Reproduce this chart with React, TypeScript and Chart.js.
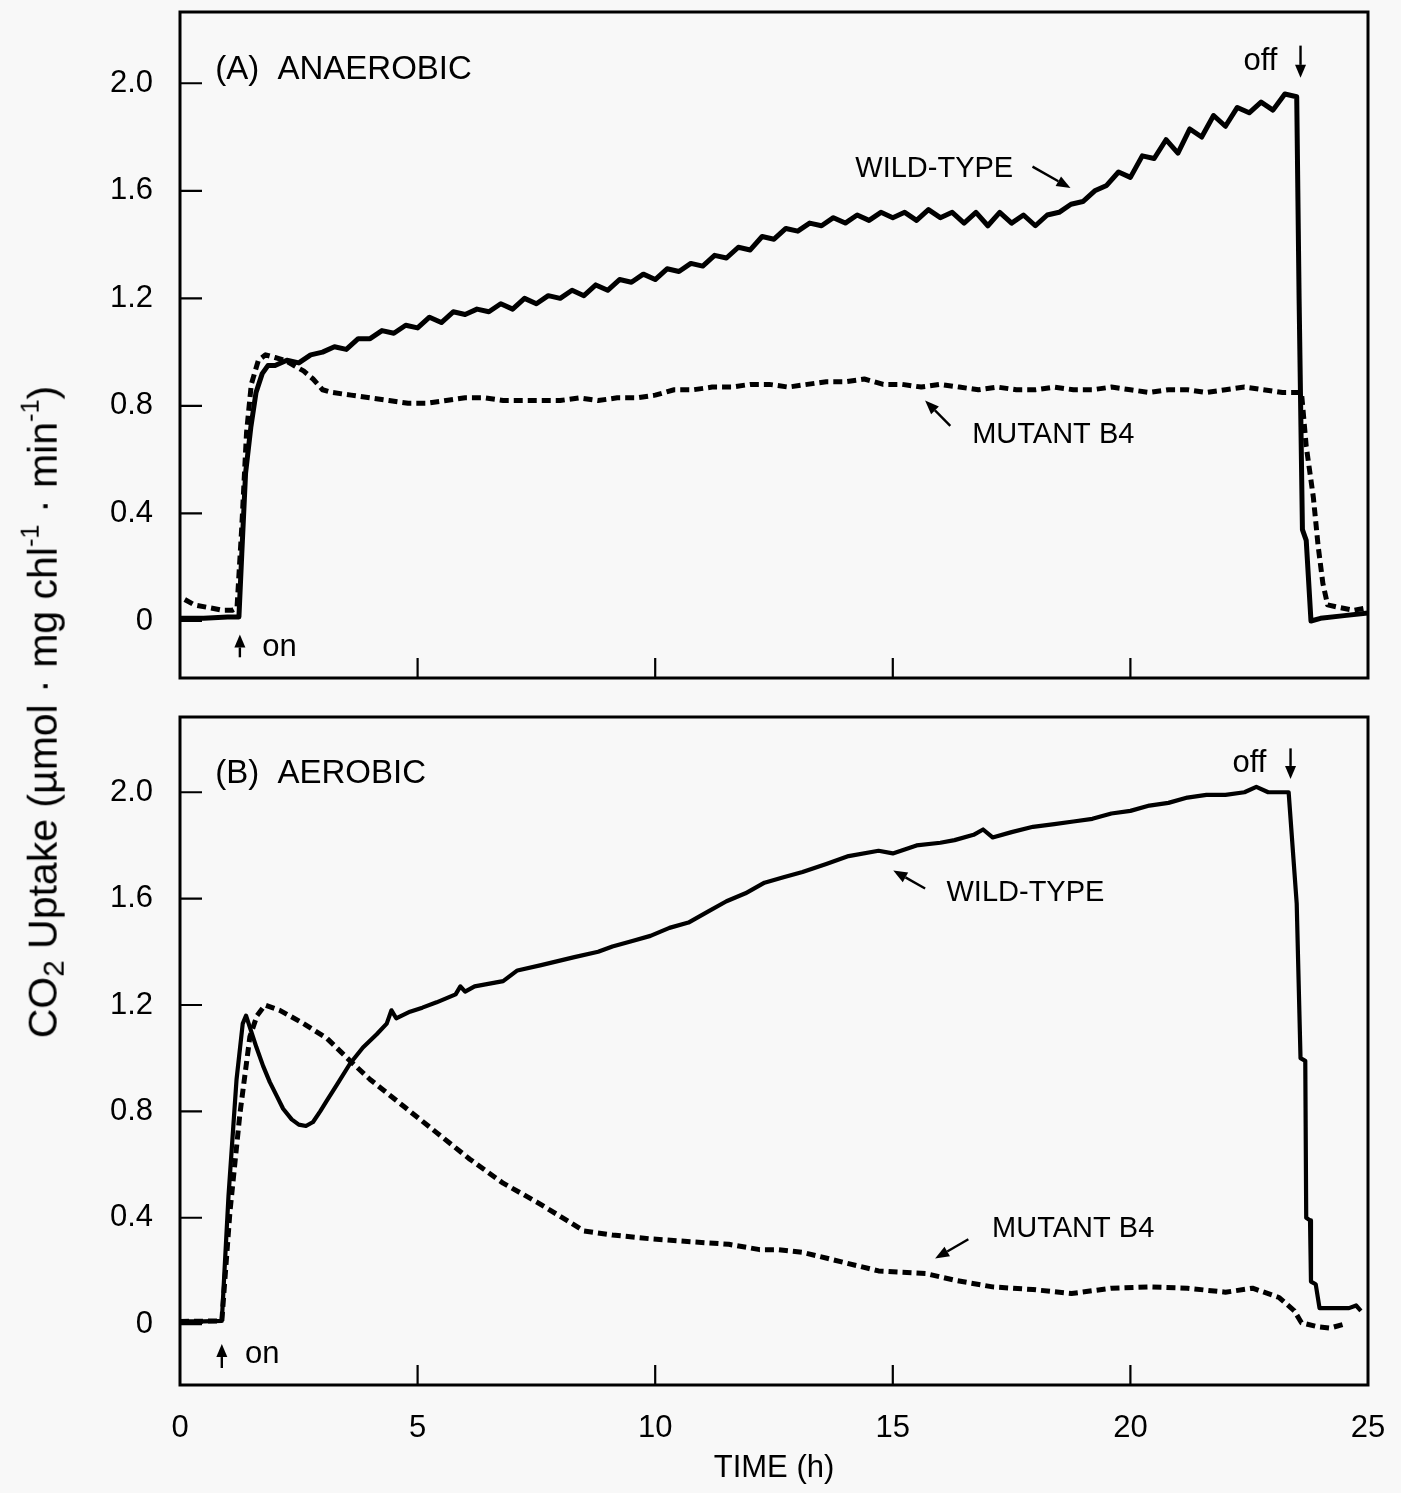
import React, { useEffect, useRef } from 'react';
import { Chart, registerables } from 'chart.js';

Chart.register(...registerables);

const FONT = "'Liberation Sans', Arial, Helvetica, sans-serif";

// ---------- ticks ----------
const xTickValues = [0, 5, 10, 15, 20, 25];
const xInnerTicks = [5, 10, 15, 20];
const yTickValues = [0, 0.4, 0.8, 1.2, 1.6, 2.0];

// ---------- data: [time (h), CO2 uptake] ----------
const anaerobicWildType: number[][] = [
  [0, 0.01], [0.5, 0.01], [1.0, 0.015], [1.24, 0.015], [1.3, 0.25], [1.38, 0.55], [1.49, 0.72],
  [1.6, 0.85], [1.73, 0.92], [1.85, 0.95], [2.0, 0.95], [2.25, 0.97], [2.5, 0.96], [2.75, 0.99],
  [3.0, 1.0], [3.25, 1.02], [3.5, 1.01], [3.75, 1.05], [4.0, 1.05], [4.25, 1.08], [4.5, 1.07],
  [4.75, 1.1], [5.0, 1.09], [5.25, 1.13], [5.5, 1.11], [5.75, 1.15], [6.0, 1.14], [6.25, 1.16],
  [6.5, 1.15], [6.75, 1.18], [7.0, 1.16], [7.25, 1.2], [7.5, 1.18], [7.75, 1.21], [8.0, 1.2],
  [8.25, 1.23], [8.5, 1.21], [8.75, 1.25], [9.0, 1.23], [9.25, 1.27], [9.5, 1.26], [9.75, 1.29],
  [10.0, 1.27], [10.25, 1.31], [10.5, 1.3], [10.75, 1.33], [11.0, 1.32], [11.25, 1.36], [11.5, 1.35],
  [11.75, 1.39], [12.0, 1.38], [12.25, 1.43], [12.5, 1.42], [12.75, 1.46], [13.0, 1.45], [13.25, 1.48],
  [13.5, 1.47], [13.75, 1.5], [14.0, 1.48], [14.25, 1.51], [14.5, 1.49], [14.75, 1.52], [15.0, 1.5],
  [15.25, 1.52], [15.5, 1.49], [15.75, 1.53], [16.0, 1.5], [16.25, 1.52], [16.5, 1.48], [16.75, 1.52],
  [17.0, 1.47], [17.25, 1.52], [17.5, 1.48], [17.75, 1.51], [18.0, 1.47], [18.25, 1.51], [18.5, 1.52],
  [18.75, 1.55], [19.0, 1.56], [19.25, 1.6], [19.5, 1.62], [19.75, 1.67], [20.0, 1.65], [20.25, 1.73],
  [20.5, 1.72], [20.75, 1.79], [21.0, 1.74], [21.25, 1.83], [21.5, 1.8], [21.75, 1.88], [22.0, 1.84],
  [22.25, 1.91], [22.5, 1.89], [22.75, 1.93], [23.0, 1.9], [23.25, 1.96], [23.5, 1.95], [23.55, 1.2],
  [23.62, 0.34], [23.7, 0.3], [23.8, 0.0], [24.0, 0.01], [24.5, 0.02], [25.0, 0.03],
];

const anaerobicMutant: number[][] = [
  [0.1, 0.08], [0.3, 0.06], [0.6, 0.05], [0.9, 0.04], [1.1, 0.04], [1.2, 0.05], [1.3, 0.35],
  [1.4, 0.7], [1.5, 0.88], [1.65, 0.97], [1.8, 0.99], [2.0, 0.98], [2.2, 0.97], [2.4, 0.95],
  [2.6, 0.93], [2.8, 0.9], [3.0, 0.86], [3.2, 0.85], [3.6, 0.84], [4.0, 0.83], [4.4, 0.82],
  [4.8, 0.81], [5.2, 0.81], [5.6, 0.82], [6.0, 0.83], [6.4, 0.83], [6.8, 0.82], [7.2, 0.82],
  [7.6, 0.82], [8.0, 0.82], [8.4, 0.83], [8.8, 0.82], [9.2, 0.83], [9.6, 0.83], [10.0, 0.84],
  [10.4, 0.86], [10.8, 0.86], [11.2, 0.87], [11.6, 0.87], [12.0, 0.88], [12.4, 0.88], [12.8, 0.87],
  [13.2, 0.88], [13.6, 0.89], [14.0, 0.89], [14.4, 0.9], [14.8, 0.88], [15.2, 0.88], [15.6, 0.87],
  [16.0, 0.88], [16.4, 0.87], [16.8, 0.86], [17.2, 0.87], [17.6, 0.86], [18.0, 0.86], [18.4, 0.87],
  [18.8, 0.86], [19.2, 0.86], [19.6, 0.87], [20.0, 0.86], [20.4, 0.85], [20.8, 0.86], [21.2, 0.86],
  [21.6, 0.85], [22.0, 0.86], [22.4, 0.87], [22.8, 0.86], [23.2, 0.85], [23.6, 0.85], [23.7, 0.65],
  [23.85, 0.46], [23.95, 0.28], [24.05, 0.14], [24.15, 0.06], [24.4, 0.05], [24.7, 0.04], [25.0, 0.05],
];

const aerobicWildType: number[][] = [
  [0, 0.01], [0.5, 0.01], [0.88, 0.012], [1.02, 0.48], [1.19, 0.92], [1.32, 1.13], [1.39, 1.16],
  [1.5, 1.1], [1.61, 1.04], [1.75, 0.97], [1.89, 0.91], [2.03, 0.86], [2.17, 0.81], [2.35, 0.77],
  [2.5, 0.75], [2.65, 0.745], [2.8, 0.76], [2.95, 0.8], [3.09, 0.84], [3.3, 0.9], [3.58, 0.98],
  [3.85, 1.04], [4.14, 1.09], [4.35, 1.13], [4.45, 1.18], [4.55, 1.15], [4.84, 1.175], [5.1, 1.19],
  [5.4, 1.21], [5.8, 1.24], [5.9, 1.27], [6.0, 1.25], [6.2, 1.27], [6.8, 1.29], [7.1, 1.33],
  [7.6, 1.35], [8.3, 1.38], [8.8, 1.4], [9.1, 1.42], [9.5, 1.44], [9.9, 1.46], [10.3, 1.49],
  [10.7, 1.51], [11.1, 1.55], [11.5, 1.59], [11.9, 1.62], [12.3, 1.66], [12.7, 1.68], [13.1, 1.7],
  [13.6, 1.73], [14.07, 1.76], [14.7, 1.78], [15.0, 1.77], [15.5, 1.8], [16.0, 1.81], [16.3, 1.82],
  [16.7, 1.84], [16.9, 1.86], [17.1, 1.83], [17.5, 1.85], [17.95, 1.87], [18.4, 1.88], [18.8, 1.89],
  [19.2, 1.9], [19.6, 1.92], [20.0, 1.93], [20.4, 1.95], [20.8, 1.96], [21.2, 1.98], [21.6, 1.99],
  [22.0, 1.99], [22.4, 2.0], [22.65, 2.02], [22.9, 2.0], [23.33, 2.0], [23.5, 1.58], [23.58, 1.0],
  [23.68, 0.99], [23.7, 0.4], [23.78, 0.39], [23.8, 0.16], [23.9, 0.15], [23.98, 0.06], [24.3, 0.06],
  [24.6, 0.06], [24.75, 0.07], [24.85, 0.05],
];

const aerobicMutant: number[][] = [
  [0, 0.01], [0.88, 0.012], [1.05, 0.42], [1.26, 0.79], [1.47, 1.08], [1.62, 1.16], [1.79, 1.2],
  [2.1, 1.18], [2.6, 1.13], [3.09, 1.075], [3.58, 0.99], [4.0, 0.92], [4.7, 0.82], [5.4, 0.72],
  [6.1, 0.62], [6.8, 0.53], [7.5, 0.46], [8.14, 0.39], [8.5, 0.35], [9.1, 0.335], [9.94, 0.32],
  [10.74, 0.31], [11.55, 0.3], [12.2, 0.28], [12.6, 0.28], [13.1, 0.27], [13.9, 0.235], [14.7, 0.2],
  [15.7, 0.19], [16.3, 0.165], [17.1, 0.14], [17.95, 0.13], [18.76, 0.115], [19.6, 0.135], [20.4, 0.14],
  [21.2, 0.135], [22.0, 0.12], [22.57, 0.135], [23.13, 0.1], [23.45, 0.05], [23.6, 0.005], [23.94, -0.01],
  [24.2, -0.015], [24.5, 0.0],
];

// ---------- annotations (data coordinates) ----------
type Ann =
  | { kind: 'text'; text: string; x: number; y: number; size: number }
  | { kind: 'arrow'; x1: number; y1: number; x2: number; y2: number; head: number; width: number };

const panelAAnnotations: Ann[] = [
  { kind: 'text', text: '(A)  ANAEROBIC', x: 0.74, y: 2.05, size: 33 },
  { kind: 'text', text: 'off', x: 22.38, y: 2.08, size: 31 },
  { kind: 'arrow', x1: 23.58, y1: 2.14, x2: 23.58, y2: 2.02, head: 13, width: 11 },
  { kind: 'arrow', x1: 1.26, y1: -0.135, x2: 1.26, y2: -0.05, head: 13, width: 11 },
  { kind: 'text', text: 'on', x: 1.73, y: -0.097, size: 31 },
  { kind: 'text', text: 'WILD-TYPE', x: 14.21, y: 1.68, size: 29 },
  { kind: 'arrow', x1: 17.94, y1: 1.69, x2: 18.74, y2: 1.61, head: 14, width: 11 },
  { kind: 'text', text: 'MUTANT B4', x: 16.67, y: 0.69, size: 29 },
  { kind: 'arrow', x1: 16.21, y1: 0.726, x2: 15.68, y2: 0.82, head: 14, width: 11 },
];

const panelBAnnotations: Ann[] = [
  { kind: 'text', text: '(B)  AEROBIC', x: 0.74, y: 2.07, size: 33 },
  { kind: 'text', text: 'off', x: 22.15, y: 2.11, size: 31 },
  { kind: 'arrow', x1: 23.37, y1: 2.165, x2: 23.37, y2: 2.05, head: 13, width: 11 },
  { kind: 'arrow', x1: 0.88, y1: -0.165, x2: 0.88, y2: -0.075, head: 13, width: 11 },
  { kind: 'text', text: 'on', x: 1.37, y: -0.116, size: 31 },
  { kind: 'text', text: 'WILD-TYPE', x: 16.13, y: 1.62, size: 29 },
  { kind: 'arrow', x1: 15.68, y1: 1.638, x2: 15.01, y2: 1.706, head: 14, width: 11 },
  { kind: 'text', text: 'MUTANT B4', x: 17.09, y: 0.356, size: 29 },
  { kind: 'arrow', x1: 16.59, y1: 0.319, x2: 15.89, y2: 0.247, head: 14, width: 11 },
];

function framePlugin(anns: Ann[]) {
  return {
    id: 'frameAndNotes',
    afterDatasetsDraw(chart: any) {
      const { ctx, chartArea: a, scales } = chart;
      const xs = scales.x;
      const ys = scales.y;
      ctx.save();
      ctx.strokeStyle = '#000';
      ctx.fillStyle = '#000';
      ctx.lineWidth = 3;
      ctx.strokeRect(a.left, a.top, a.right - a.left, a.bottom - a.top);
      ctx.lineWidth = 2.2;
      ctx.beginPath();
      xInnerTicks.forEach((v) => {
        const p = xs.getPixelForValue(v);
        ctx.moveTo(p, a.bottom);
        ctx.lineTo(p, a.bottom - 20);
      });
      yTickValues.forEach((v) => {
        const p = ys.getPixelForValue(v);
        ctx.moveTo(a.left, p);
        ctx.lineTo(a.left + 22, p);
      });
      ctx.stroke();

      anns.forEach((an) => {
        if (an.kind === 'text') {
          ctx.font = `${an.size}px ${FONT}`;
          ctx.textAlign = 'left';
          ctx.textBaseline = 'middle';
          ctx.fillText(an.text, xs.getPixelForValue(an.x), ys.getPixelForValue(an.y));
        } else {
          const x1 = xs.getPixelForValue(an.x1);
          const y1 = ys.getPixelForValue(an.y1);
          const x2 = xs.getPixelForValue(an.x2);
          const y2 = ys.getPixelForValue(an.y2);
          const ang = Math.atan2(y2 - y1, x2 - x1);
          const bx = x2 - Math.cos(ang) * an.head;
          const by = y2 - Math.sin(ang) * an.head;
          ctx.lineWidth = 2.4;
          ctx.beginPath();
          ctx.moveTo(x1, y1);
          ctx.lineTo(bx, by);
          ctx.stroke();
          const nx = (-Math.sin(ang) * an.width) / 2;
          const ny = (Math.cos(ang) * an.width) / 2;
          ctx.beginPath();
          ctx.moveTo(x2, y2);
          ctx.lineTo(bx + nx, by + ny);
          ctx.lineTo(bx - nx, by - ny);
          ctx.closePath();
          ctx.fill();
        }
      });
      ctx.restore();
    },
  };
}

const toPoints = (arr: number[][]) => arr.map(([x, y]) => ({ x, y }));

const zeroPadding = (s: any) => {
  s.paddingTop = 0;
  s.paddingBottom = 0;
  s.paddingLeft = 0;
  s.paddingRight = 0;
};

function buildConfig(
  wild: number[][],
  mutant: number[][],
  yMin: number,
  yMax: number,
  padding: any,
  showX: boolean,
  anns: Ann[],
  wildWidth: number,
): any {
  return {
    type: 'line',
    data: {
      datasets: [
        {
          label: 'MUTANT B4',
          data: toPoints(mutant),
          borderColor: '#000',
          borderWidth: 5,
          borderDash: [9, 5],
          pointRadius: 0,
          tension: 0,
          fill: false,
          borderJoinStyle: 'round',
        },
        {
          label: 'WILD-TYPE',
          data: toPoints(wild),
          borderColor: '#000',
          borderWidth: wildWidth,
          pointRadius: 0,
          tension: 0,
          fill: false,
          borderJoinStyle: 'round',
        },
      ],
    },
    options: {
      responsive: false,
      maintainAspectRatio: false,
      animation: false,
      layout: { padding, autoPadding: false },
      plugins: { legend: { display: false }, tooltip: { enabled: false } },
      scales: {
        x: {
          type: 'linear',
          min: 0,
          max: 25,
          display: showX,
          afterBuildTicks: (s: any) => {
            s.ticks = xTickValues.map((v) => ({ value: v }));
          },
          afterFit: (s: any) => {
            if (showX) s.height = 108;
            zeroPadding(s);
          },
          grid: { display: false },
          border: { display: false },
          ticks: {
            padding: 17,
            color: '#000',
            font: { family: FONT, size: 31 },
            maxRotation: 0,
            callback: (v: any) => String(v),
          },
          title: {
            display: showX,
            text: 'TIME (h)',
            color: '#000',
            font: { family: FONT, size: 31 },
            padding: { top: 0, bottom: 6 },
          },
        },
        y: {
          type: 'linear',
          min: yMin,
          max: yMax,
          afterBuildTicks: (s: any) => {
            s.ticks = yTickValues.map((v) => ({ value: v }));
          },
          afterFit: (s: any) => {
            s.width = 180;
            zeroPadding(s);
          },
          grid: { display: false },
          border: { display: false },
          ticks: {
            padding: 19,
            color: '#000',
            font: { family: FONT, size: 31 },
            callback: (v: any) => (v === 0 ? '0' : Number(v).toFixed(1)),
          },
        },
      },
    },
    plugins: [framePlugin(anns)],
  };
}

export default function App() {
  const refA = useRef<HTMLCanvasElement | null>(null);
  const refB = useRef<HTMLCanvasElement | null>(null);

  useEffect(() => {
    if (!refA.current || !refB.current) return;
    const chartA = new Chart(
      refA.current,
      buildConfig(
        anaerobicWildType, anaerobicMutant, -0.212, 2.265,
        { left: 0, right: 33, top: 12, bottom: 22 }, false, panelAAnnotations, 5,
      ),
    );
    const chartB = new Chart(
      refB.current,
      buildConfig(
        aerobicWildType, aerobicMutant, -0.229, 2.283,
        { left: 0, right: 33, top: 17, bottom: 0 }, true, panelBAnnotations, 4.2,
      ),
    );
    return () => {
      chartA.destroy();
      chartB.destroy();
    };
  }, []);

  return (
    <div
      style={{
        position: 'absolute',
        left: 0,
        top: 0,
        width: 1401,
        height: 1493,
        background: '#f8f8f8',
        overflow: 'hidden',
      }}
    >
      <canvas
        ref={refA}
        width={1401}
        height={700}
        style={{ position: 'absolute', left: 0, top: 0, width: 1401, height: 700 }}
      />
      <canvas
        ref={refB}
        width={1401}
        height={793}
        style={{ position: 'absolute', left: 0, top: 700, width: 1401, height: 793 }}
      />
      <div
        style={{
          position: 'absolute',
          left: 43,
          top: 712,
          transform: 'translate(-50%, -50%) rotate(-90deg)',
          whiteSpace: 'nowrap',
          fontFamily: FONT,
          fontSize: 41,
          color: '#000',
          lineHeight: 1,
        }}
      >
        CO<sub style={{ fontSize: '0.72em', verticalAlign: '-0.25em' }}>2</sub> Uptake (µmol · mg chl
        <sup style={{ fontSize: '0.62em', verticalAlign: '0.7em' }}>-1</sup> · min
        <sup style={{ fontSize: '0.62em', verticalAlign: '0.7em' }}>-1</sup>)
      </div>
    </div>
  );
}
